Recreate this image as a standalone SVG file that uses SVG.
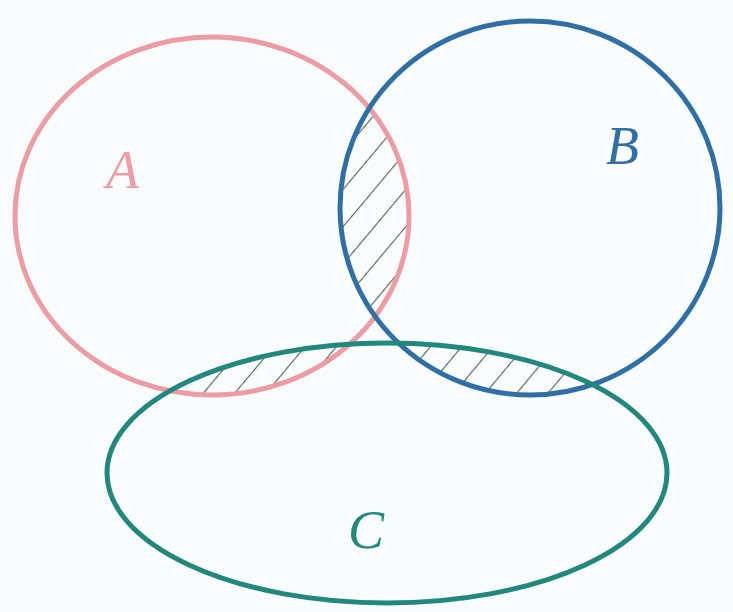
<svg xmlns="http://www.w3.org/2000/svg" width="733" height="612" viewBox="0 0 733 612">
<style>
.set{fill:none;stroke-width:5}
.a{stroke:#ee9ca4}
.b{stroke:#2f6fa6}
.c{stroke:#22877f}
.lbl{font-family:"Liberation Serif",serif;font-style:italic;font-size:54px}
</style>
<defs>
<pattern id="hatch" patternUnits="userSpaceOnUse" width="24" height="24" patternTransform="rotate(40)">
<line x1="0" y1="0" x2="0" y2="24" stroke="#55634f" stroke-width="2.2"/>
</pattern>
<clipPath id="clipA"><ellipse cx="212" cy="216" rx="197" ry="179"/></clipPath>
<clipPath id="clipB"><ellipse cx="530" cy="208" rx="190" ry="187"/></clipPath>
<clipPath id="clipC"><ellipse cx="387" cy="473" rx="280" ry="130"/></clipPath>
</defs>
<rect width="733" height="612" fill="#f9fcfc"/>
<g id="hatching">
<g clip-path="url(#clipA)"><rect x="0" y="0" width="733" height="612" fill="url(#hatch)" clip-path="url(#clipB)"/></g>
<g clip-path="url(#clipA)"><rect x="0" y="0" width="733" height="612" fill="url(#hatch)" clip-path="url(#clipC)"/></g>
<g clip-path="url(#clipB)"><rect x="0" y="0" width="733" height="612" fill="url(#hatch)" clip-path="url(#clipC)"/></g>
</g>
<g id="setA">
<ellipse class="set a" cx="212" cy="216" rx="197" ry="179"/>
<text class="lbl" x="106" y="188" fill="#ee9ca4">A</text>
</g>
<g id="setB">
<ellipse class="set b" cx="530" cy="208" rx="190" ry="187"/>
<text class="lbl" x="606" y="164" fill="#2f6fa6">B</text>
</g>
<g id="setC">
<ellipse class="set c" cx="387" cy="473" rx="280" ry="130"/>
<text class="lbl" x="348" y="548" fill="#22877f">C</text>
</g>
<g id="connectors"/>
</svg>
